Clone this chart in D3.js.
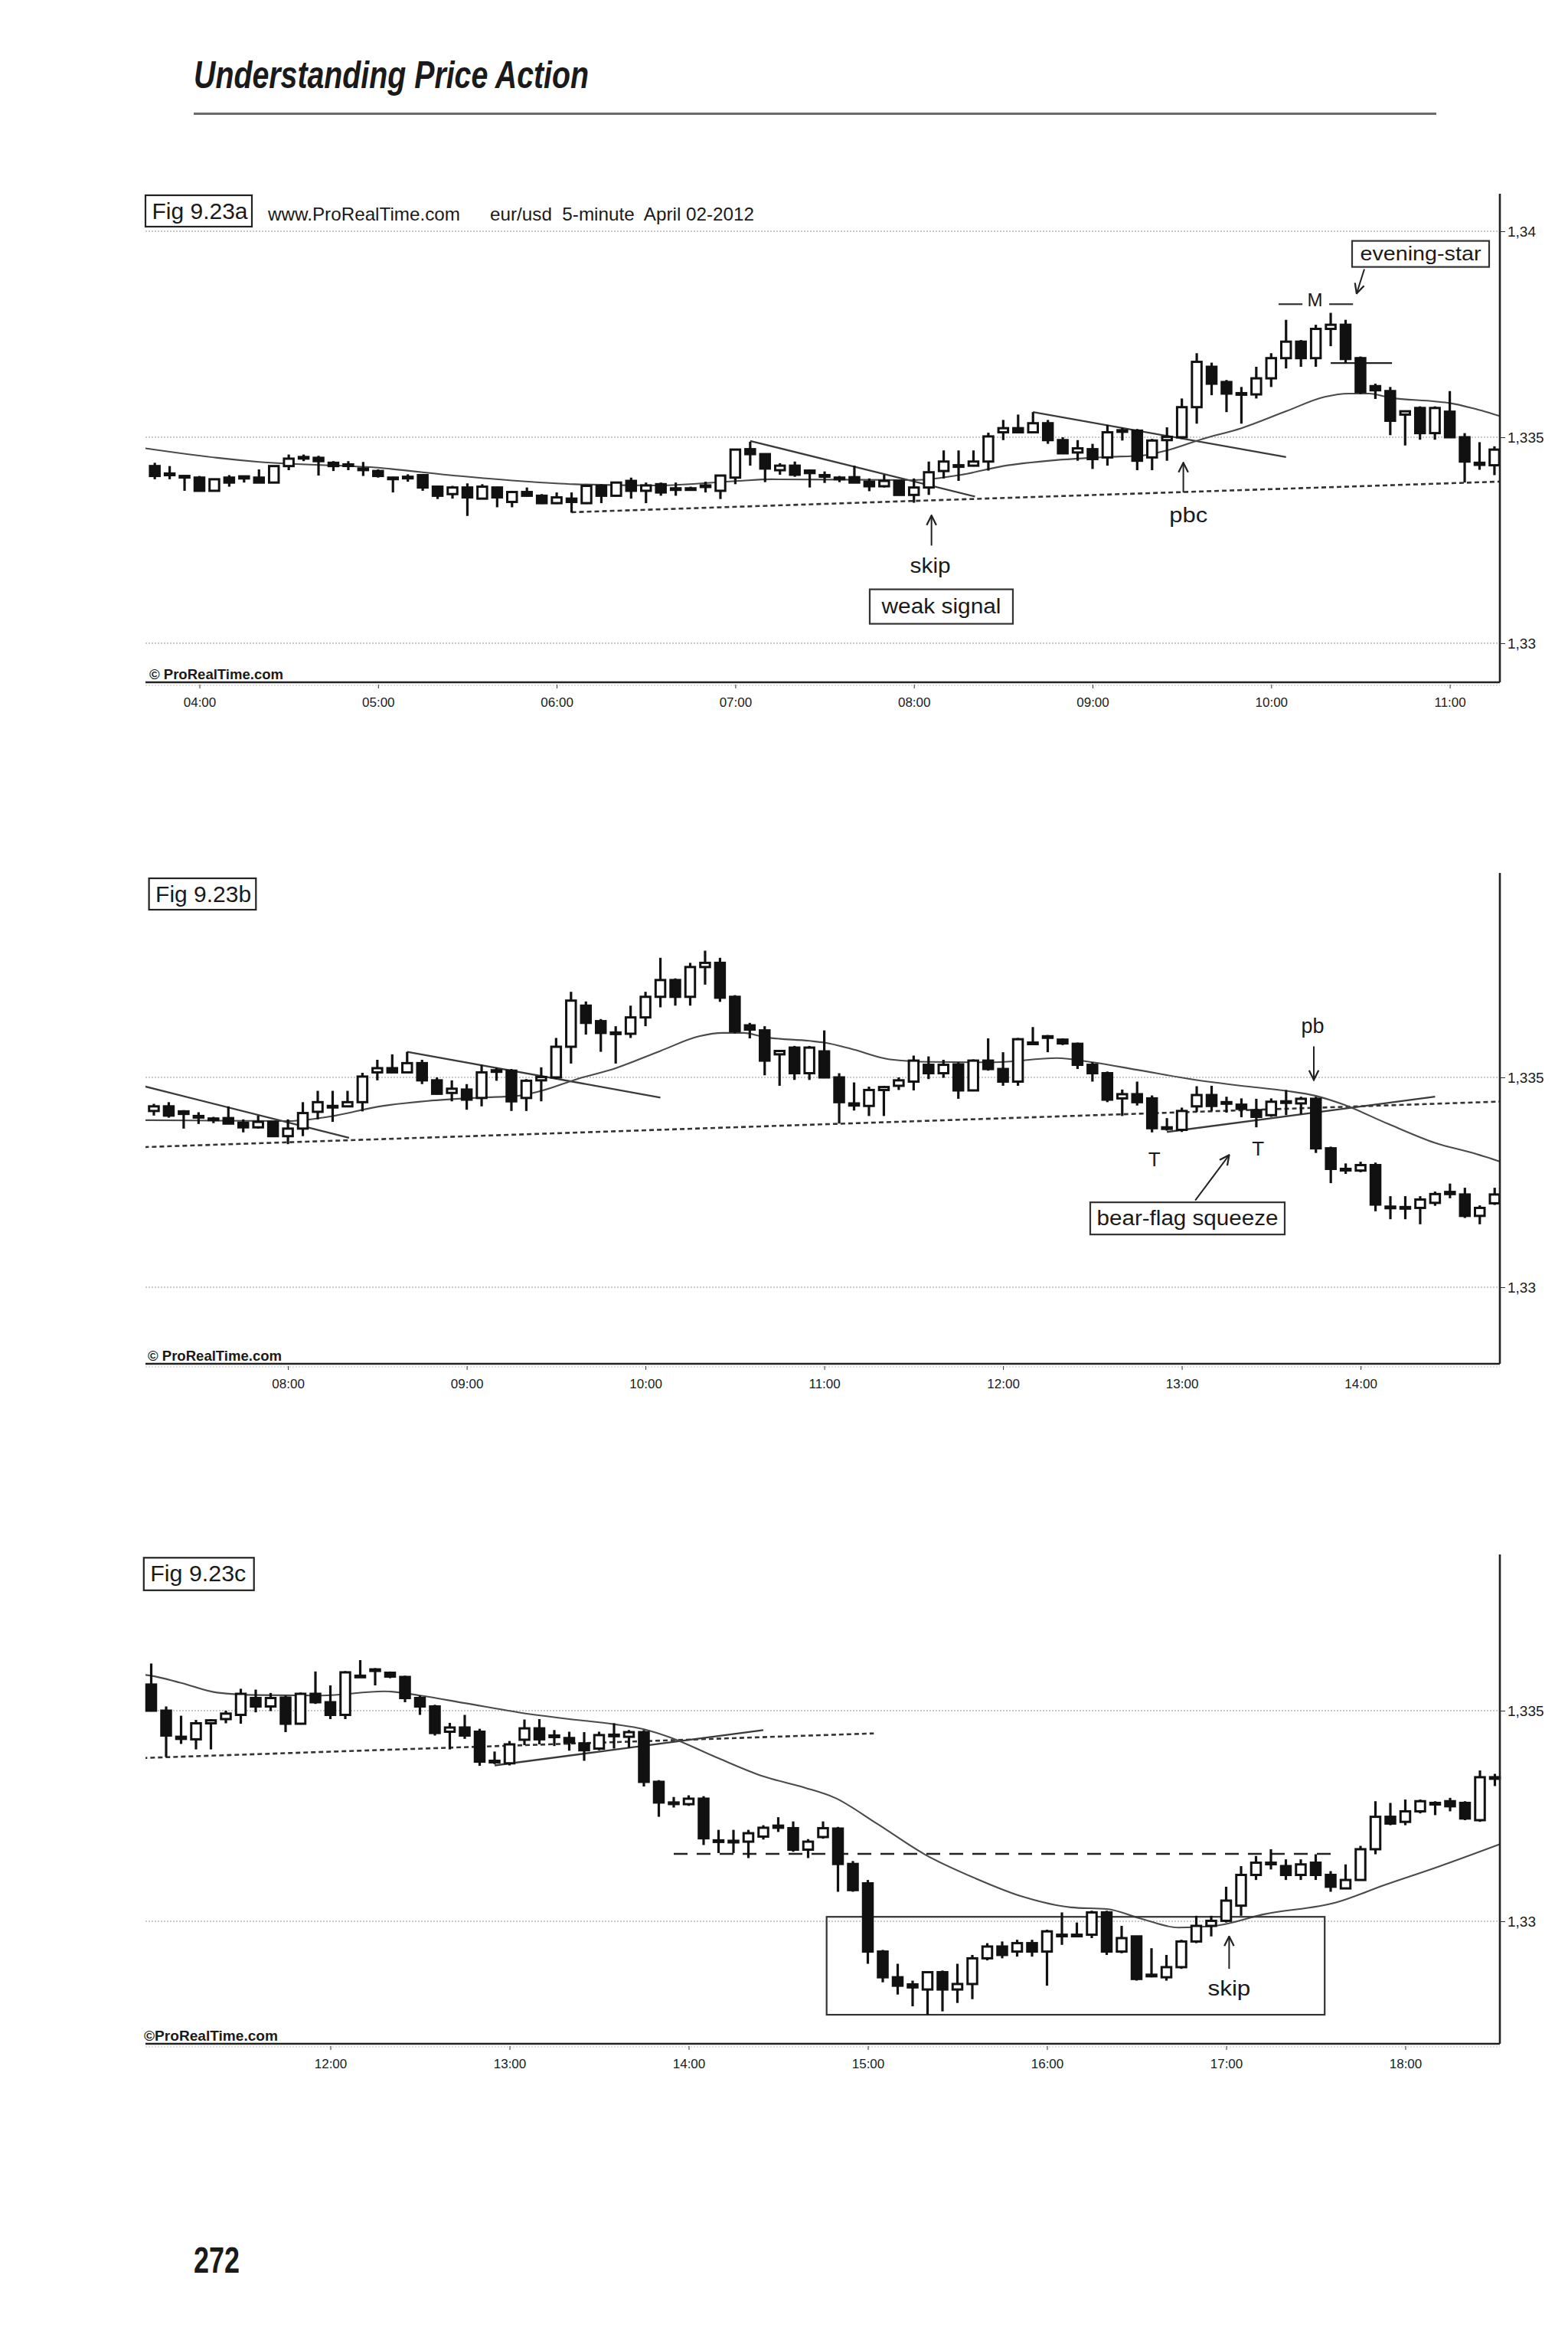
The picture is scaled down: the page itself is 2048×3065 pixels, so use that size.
<!DOCTYPE html>
<html>
<head>
<meta charset="utf-8">
<title>Fig 9.23 eur/usd 5-minute April 02-2012</title>
<script src="https://cdn.jsdelivr.net/npm/d3@7"></script>
<style>
html,body{margin:0;padding:0;background:#fff;}
svg{display:block;}
text{font-family:"Liberation Sans",Arial,sans-serif;fill:#1a1a1a;}
</style>
</head>
<body>
<svg id="page" width="2048" height="3065" viewBox="0 0 2048 3065"></svg>
<script>
// ================= DATA =================
// EUR/USD 5-minute bars, 2 April 2012. First bar 03:45, one bar every 5 minutes (to 18:30).
// Prices are given in pips above 1.3300  (price = 1.3300 + pips * 0.0001).
const PIP_BASE = 1.33;
const PIP_SIZE = 0.0001;
const firstBarTime = "03:45";
const barMinutes = 5;

const openPips = [
  43.0, 41.2, 40.6,
  40.2, 37.0, 40.2, 40.0, 40.2, 39.0, 43.0, 45.2, 45.0, 43.8, 43.4, 42.4,
  41.8, 40.2, 40.4, 40.8, 38.0, 36.2, 37.8, 35.1, 37.8, 34.3, 36.7, 35.8,
  34.0, 35.1, 34.0, 38.2, 35.8, 39.4, 37.0, 38.6, 37.6, 37.6, 38.0, 37.0,
  40.2, 47.1, 45.9, 42.0, 43.1, 41.9, 40.8, 40.2, 40.3, 39.2, 38.1, 39.4,
  36.0, 37.8, 41.8, 43.1, 43.1, 44.1, 51.2, 52.2, 51.2, 53.4, 49.3, 46.3,
  47.1, 45.1, 51.5, 51.6, 45.1, 49.3, 50.0, 57.3, 67.1, 63.4, 60.7, 60.4,
  64.3, 69.2, 73.2, 69.2, 76.3, 77.3, 69.2, 62.4, 61.2, 55.5, 57.1, 51.0,
  56.2, 50.0, 43.8, 43.2, 47.0, 48.0, 49.0, 53.0, 51.0, 53.1, 46.9, 54.0,
  52.0, 49.0, 58.1, 59.8, 59.0, 58.0, 53.0, 51.0, 45.0, 46.0, 45.0, 37.9,
  37.5, 43.1, 45.8, 44.1, 43.5, 42.2, 41.0, 44.2, 43.8, 44.9, 33.1, 28.2,
  27.8, 29.1, 19.2, 19.0, 18.9, 20.1, 22.7, 22.1, 17.0, 20.0, 22.0, 13.6,
  9.0, -7.2, -13.3, -15.0, -16.2, -12.1, -16.2, -14.9, -8.8, -6.0, -7.2, -5.2,
  -7.2, -3.2, -3.2, -3.2, 2.1, -7.2, -3.6, -12.9, -13.3, -10.9, -4.8, -1.1,
  0.1, 3.7, 11.0, 13.9, 13.1, 11.0, 13.9, 11.0, 7.8, 9.8, 17.1, 24.8,
  23.6, 26.1, 28.1, 28.5, 28.1, 24.0, 34.2
];
const highPips = [
  43.8, 43.0, 40.8,
  40.6, 39.9, 40.8, 40.7, 42.2, 43.0, 45.8, 45.8, 45.5, 44.2, 44.2, 44.0,
  42.2, 40.4, 41.0, 41.0, 38.2, 38.2, 38.8, 38.6, 38.0, 37.0, 37.8, 36.2,
  36.6, 36.6, 38.2, 38.6, 39.2, 40.2, 39.0, 39.0, 39.0, 38.0, 39.2, 40.8,
  47.2, 48.9, 46.0, 43.7, 44.1, 42.2, 41.7, 40.6, 43.1, 40.0, 40.9, 39.6,
  40.0, 44.1, 46.8, 46.8, 46.8, 51.1, 54.2, 55.5, 56.1, 54.2, 50.0, 49.3,
  48.4, 53.0, 52.3, 52.0, 49.6, 52.4, 59.4, 70.4, 68.1, 63.9, 62.2, 67.1,
  70.4, 78.5, 73.6, 77.3, 80.2, 78.5, 69.6, 63.0, 62.2, 56.5, 57.5, 57.5,
  61.2, 51.0, 48.8, 47.8, 48.0, 50.0, 55.2, 55.0, 54.2, 53.6, 54.3, 59.3,
  56.0, 59.4, 62.0, 60.1, 59.3, 58.3, 53.6, 51.4, 47.1, 49.0, 45.7, 40.3,
  42.8, 47.9, 48.0, 45.4, 45.0, 44.9, 45.0, 47.0, 45.4, 45.4, 33.5, 29.5,
  29.9, 29.7, 21.7, 21.7, 21.7, 22.8, 24.7, 23.7, 19.5, 23.7, 22.4, 14.3,
  9.8, -6.8, -10.1, -14.1, -12.1, -11.7, -10.1, -8.0, -5.2, -4.8, -4.4, -4.4,
  -2.0, 2.1, -0.3, 2.5, 2.5, -1.1, -3.6, -6.4, -8.0, -4.4, 1.3, 1.3,
  8.2, 13.1, 15.5, 17.1, 14.7, 14.7, 15.9, 11.9, 13.5, 17.9, 28.5, 28.1,
  28.9, 28.9, 28.5, 29.3, 28.5, 35.8, 35.0
];
const lowPips = [
  39.8, 39.8, 37.0,
  36.8, 36.9, 38.0, 39.0, 39.0, 39.0, 42.0, 44.2, 40.7, 41.8, 42.0, 40.6,
  40.2, 36.6, 39.2, 37.0, 35.0, 35.1, 30.9, 35.0, 33.0, 33.0, 35.6, 33.8,
  33.8, 31.7, 33.8, 34.0, 35.6, 35.1, 34.0, 35.8, 35.8, 37.0, 36.6, 35.0,
  38.6, 43.1, 39.1, 40.9, 40.4, 37.8, 38.9, 39.1, 39.0, 36.9, 37.8, 36.0,
  34.1, 36.0, 40.0, 39.4, 42.9, 41.9, 49.3, 51.2, 51.2, 48.4, 45.9, 44.3,
  42.3, 43.1, 49.2, 42.0, 42.0, 44.3, 49.6, 53.3, 60.2, 56.1, 53.3, 59.4,
  62.2, 66.7, 67.1, 67.1, 72.1, 68.0, 60.5, 59.3, 50.5, 48.0, 49.4, 49.4,
  49.8, 39.0, 42.1, 40.8, 40.8, 47.0, 46.9, 49.6, 49.9, 44.9, 46.7, 51.6,
  48.0, 48.0, 57.9, 56.0, 57.7, 52.0, 49.0, 44.1, 40.8, 43.3, 36.9, 37.3,
  37.0, 41.8, 42.0, 41.6, 40.5, 38.1, 40.6, 41.0, 41.2, 32.0, 24.8, 27.0,
  27.4, 18.1, 16.2, 16.2, 15.0, 19.4, 21.2, 16.5, 15.0, 19.6, 7.0, 7.0,
  -10.1, -14.5, -17.4, -20.2, -22.2, -21.4, -19.4, -18.5, -9.3, -8.8, -8.4, -8.4,
  -15.3, -5.6, -3.6, -4.0, -8.0, -7.6, -14.1, -13.3, -14.1, -11.3, -5.2, -3.6,
  -0.3, 1.3, 9.8, 12.3, 9.8, 9.8, 9.8, 7.0, 7.8, 9.8, 15.9, 22.8,
  22.8, 25.6, 25.2, 26.1, 24.0, 23.6, 32.1
];
const closePips = [
  40.6, 40.8, 40.4,
  37.0, 39.8, 39.0, 40.5, 39.0, 43.0, 44.8, 45.0, 44.2, 43.0, 43.3, 42.2,
  40.6, 40.0, 40.2, 37.8, 35.8, 37.8, 35.4, 38.0, 35.4, 36.7, 35.8, 34.0,
  35.4, 34.3, 38.2, 35.8, 39.0, 37.0, 38.3, 36.6, 37.4, 37.4, 38.3, 40.7,
  47.0, 45.9, 42.4, 43.1, 40.9, 41.3, 40.6, 40.0, 39.0, 38.1, 39.4, 36.0,
  37.8, 41.5, 44.1, 43.2, 44.1, 50.2, 52.2, 51.2, 53.4, 49.3, 46.1, 47.3,
  44.7, 51.2, 51.7, 44.3, 49.2, 50.1, 57.3, 68.3, 63.0, 60.6, 60.5, 64.3,
  69.2, 73.2, 69.2, 76.3, 77.3, 69.0, 61.0, 61.4, 54.0, 56.3, 51.0, 57.1,
  50.0, 44.1, 43.3, 47.0, 47.7, 49.3, 54.0, 51.0, 53.0, 46.9, 54.0, 52.0,
  49.0, 59.1, 58.3, 59.6, 58.1, 53.0, 51.0, 44.7, 46.0, 44.1, 37.9, 38.1,
  42.0, 45.8, 43.2, 43.9, 42.5, 40.6, 44.2, 44.3, 44.9, 33.1, 28.2, 28.0,
  29.1, 19.7, 19.0, 19.1, 20.9, 22.2, 22.2, 17.0, 18.9, 22.1, 13.6, 7.4,
  -7.2, -13.3, -15.3, -15.7, -12.1, -16.2, -14.9, -8.8, -6.0, -8.0, -5.2, -7.2,
  -2.4, -3.3, -3.3, 2.1, -7.2, -4.0, -13.7, -12.7, -10.9, -4.8, -1.1, 0.1,
  4.9, 11.0, 13.9, 13.8, 11.0, 13.5, 11.0, 8.2, 9.8, 17.1, 24.8, 23.2,
  26.1, 28.5, 28.1, 27.3, 24.4, 34.2, 34.0
];

// moving average (thin grey line)
const maTimes = ["03:40","04:06","04:20","05:00","05:27","05:47","06:06","06:34","07:01","07:12",
  "08:00","08:16","08:30","08:47","09:05","09:17","09:25","09:37","09:50","10:05",
  "10:18","10:26","10:33","10:40","10:55","11:00","11:10","11:22","11:36","11:57",
  "12:18","12:30","12:45","13:03","13:20","13:35","13:45","13:54","14:09","14:25",
  "14:39","14:49","15:03","15:19","15:36","15:52","16:08","16:20","16:32","16:44",
  "16:56","17:13","17:37","17:53","18:10","18:32"];
const maPips = [47.5,45.0,44.0,42.6,40.6,39.4,38.6,38.3,39.4,39.8,
  39.6,40.9,43.0,44.4,45.2,45.6,46.8,49.6,52.2,56.3,
  59.8,60.6,60.6,59.6,58.7,58.3,56.6,54.3,53.7,53.6,
  54.6,53.6,51.8,49.6,48.0,46.8,45.6,43.6,39.0,34.4,
  31.7,29.3,23.2,15.9,10.2,5.8,3.3,2.9,0.5,-1.5,
  -1.1,1.7,4.5,8.6,12.7,18.4];

// hand-drawn lines (end points)
const supportTimes = ["06:05", "15:02"];   const supportPips = [31.8, 44.6];   // dotted rising line
const tl1Times = ["07:05", "08:20.5"];      const tl1Pips = [49.1, 35.6];
const tl2Times = ["08:40", "10:05"];        const tl2Pips = [56.1, 45.2];
const tl3Times = ["12:55", "14:25"];        const tl3Pips = [37.0, 45.4];        // bear-flag line
const eveningLineTimes = ["10:20", "10:40.6"]; const eveningLinePips = [68.0, 68.0];
const levelTimes = ["13:55", "17:36"];      const levelPips = [16.0, 16.0];      // dashed level (Fig c)
const boxTimes = ["14:46.2", "17:33"];      const boxPips = [1.05, -22.2];       // range box (Fig c)

// axes
const priceTicks = [1.33, 1.335, 1.34];
const priceTickLabels = ["1,33", "1,335", "1,34"];
const panelATicks = ["04:00","05:00","06:00","07:00","08:00","09:00","10:00","11:00"];
const panelBTicks = ["08:00","09:00","10:00","11:00","12:00","13:00","14:00"];
const panelCTicks = ["12:00","13:00","14:00","15:00","16:00","17:00","18:00"];

// ================= HELPERS =================
const M = s => { const [h, m] = s.split(":"); return (+h) * 60 + (+m); };
const P = pips => PIP_BASE + pips * PIP_SIZE;
const barMin = d3.range(openPips.length).map(i => M(firstBarTime) + i * barMinutes);

// ================= LAYOUT =================
const LEFT = 190, RIGHT = 1959, BODY = 12.5;
const INK = "#111";

const svg = d3.select("#page");
const defs = svg.append("defs");
defs.append("marker").attr("id", "arrow")
  .attr("viewBox", "0 0 12 12").attr("refX", 11).attr("refY", 6)
  .attr("markerWidth", 15).attr("markerHeight", 15)
  .attr("markerUnits", "userSpaceOnUse").attr("orient", "auto")
  .append("path").attr("d", "M1,1 L11,6 L1,11")
  .attr("fill", "none").attr("stroke", "#222").attr("stroke-width", 1.8);

// page header
svg.append("text").attr("x", 253).attr("y", 115)
  .attr("font-family", "'Liberation Sans Narrow','Arial Narrow','Liberation Sans',sans-serif")
  .attr("font-style", "italic").attr("font-weight", 600).attr("font-size", 50)
  .attr("textLength", 516).attr("lengthAdjust", "spacingAndGlyphs")
  .text("Understanding Price Action");
svg.append("line").attr("x1", 253).attr("x2", 1876).attr("y1", 148.5).attr("y2", 148.5)
  .attr("stroke", "#6a6a6a").attr("stroke-width", 3);
svg.append("text").attr("x", 253).attr("y", 2968)
  .attr("font-family", "'Liberation Sans Narrow','Arial Narrow','Liberation Sans',sans-serif")
  .attr("font-weight", 700).attr("font-size", 48)
  .attr("textLength", 60).attr("lengthAdjust", "spacingAndGlyphs")
  .text("272");

const panels = [
  { id: "a", label: "Fig 9.23a", barsFrom: "03:45", barsTo: "11:15", ticks: panelATicks,
    tickAnchor: ["04:00", "11:00"], tickX: [260.5, 1893.6], priceY: [840, 571],
    top: 253, bottom: 891, figBox: [190, 255, 139, 41],
    copy: "© ProRealTime.com", copyX: 195 },
  { id: "b", label: "Fig 9.23b", barsFrom: "07:15", barsTo: "14:45", ticks: panelBTicks,
    tickAnchor: ["08:00", "14:00"], tickX: [376.1, 1777.1], priceY: [1681, 1407],
    top: 1140, bottom: 1781, figBox: [194.6, 1147, 139.7, 41],
    copy: "© ProRealTime.com", copyX: 193 },
  { id: "c", label: "Fig 9.23c", barsFrom: "11:00", barsTo: "18:30", ticks: panelCTicks,
    tickAnchor: ["12:00", "18:00"], tickX: [431.5, 1835.5], priceY: [2509, 2234],
    top: 2030, bottom: 2669, figBox: [187.8, 2034.3, 143.9, 42.5],
    copy: "©ProRealTime.com", copyX: 188 }
];

function drawPanel(cfg) {
  const x = d3.scaleLinear().domain(cfg.tickAnchor.map(M)).range(cfg.tickX);
  const y = d3.scaleLinear().domain([1.33, 1.335]).range(cfg.priceY);
  const g = svg.append("g").attr("id", "panel-" + cfg.id);
  const clipId = "clip-" + cfg.id;
  defs.append("clipPath").attr("id", clipId).append("rect")
    .attr("x", LEFT).attr("y", cfg.top).attr("width", RIGHT - LEFT).attr("height", cfg.bottom - cfg.top);

  // horizontal dotted grid
  const tIdx = d3.range(priceTicks.length).filter(k => y(priceTicks[k]) > cfg.top && y(priceTicks[k]) < cfg.bottom);
  g.append("g").selectAll("line").data(tIdx).join("line")
    .attr("x1", LEFT).attr("x2", RIGHT)
    .attr("y1", k => y(priceTicks[k])).attr("y2", k => y(priceTicks[k]))
    .attr("stroke", "#b9b9b9").attr("stroke-width", 1.5).attr("stroke-dasharray", "2,2");

  const lg = g.append("g").attr("clip-path", `url(#${clipId})`);
  const seg = (times, pips) => times.map((t, i) => [M(t), P(pips[i])]);
  const lineGen = d3.line().x(d => x(d[0])).y(d => y(d[1]));

  // dotted rising line
  lg.append("path").attr("d", lineGen(seg(supportTimes, supportPips)))
    .attr("fill", "none").attr("stroke", "#333").attr("stroke-width", 2.6).attr("stroke-dasharray", "6,4");
  // trend lines
  [[tl1Times, tl1Pips], [tl2Times, tl2Pips], [tl3Times, tl3Pips]].forEach(([t, p]) => {
    lg.append("path").attr("d", lineGen(seg(t, p)))
      .attr("fill", "none").attr("stroke", "#3a3a3a").attr("stroke-width", 2.3);
  });
  // moving average
  lg.append("path").attr("d", d3.line().x(d => x(d[0])).y(d => y(d[1])).curve(d3.curveMonotoneX)(seg(maTimes, maPips)))
    .attr("fill", "none").attr("stroke", "#4a4a4a").attr("stroke-width", 2.1);

  if (cfg.id === "a") {
    lg.append("path").attr("d", lineGen(seg(eveningLineTimes, eveningLinePips)))
      .attr("fill", "none").attr("stroke", "#222").attr("stroke-width", 2.4);
  }
  if (cfg.id === "c") {
    lg.append("path").attr("d", lineGen(seg(levelTimes, levelPips)))
      .attr("fill", "none").attr("stroke", "#222").attr("stroke-width", 2.6).attr("stroke-dasharray", "18,12");
    lg.append("rect")
      .attr("x", x(M(boxTimes[0]))).attr("width", x(M(boxTimes[1])) - x(M(boxTimes[0])))
      .attr("y", y(P(boxPips[0]))).attr("height", y(P(boxPips[1])) - y(P(boxPips[0])))
      .attr("fill", "none").attr("stroke", "#333").attr("stroke-width", 2.2);
  }

  // candles
  const idx = d3.range(barMin.length).filter(i => barMin[i] >= M(cfg.barsFrom) && barMin[i] <= M(cfg.barsTo));
  const cg = g.append("g").selectAll("g").data(idx).join("g");
  cg.append("line")
    .attr("x1", i => x(barMin[i])).attr("x2", i => x(barMin[i]))
    .attr("y1", i => y(P(highPips[i]))).attr("y2", i => y(P(lowPips[i])))
    .attr("stroke", INK).attr("stroke-width", 3.2);
  cg.append("rect")
    .attr("x", i => x(barMin[i]) - BODY / 2).attr("width", BODY)
    .attr("y", i => Math.min(y(P(openPips[i])), y(P(closePips[i]))))
    .attr("height", i => Math.max(2, Math.abs(y(P(openPips[i])) - y(P(closePips[i])))))
    .attr("fill", i => closePips[i] > openPips[i] ? "#fff" : INK)
    .attr("stroke", INK).attr("stroke-width", 3);

  // bottom axis
  g.append("line").attr("x1", LEFT).attr("x2", RIGHT).attr("y1", cfg.bottom).attr("y2", cfg.bottom)
    .attr("stroke", "#222").attr("stroke-width", 2.6);
  g.append("line").attr("x1", LEFT).attr("x2", RIGHT).attr("y1", cfg.bottom + 4).attr("y2", cfg.bottom + 4)
    .attr("stroke", "#c4c4c4").attr("stroke-width", 1.2).attr("stroke-dasharray", "2,2");
  const xAxis = d3.axisBottom(x).tickValues(cfg.ticks.map(M))
    .tickFormat((m, k) => cfg.ticks[k]).tickSize(5).tickPadding(12);
  const xa = g.append("g").attr("transform", `translate(0,${cfg.bottom + 3})`).call(xAxis);
  xa.select(".domain").remove();
  xa.style("color", "#333").attr("font-family", "'Liberation Sans',Arial,sans-serif").attr("font-size", 17);
  xa.selectAll("text").attr("fill", "#1a1a1a");

  // right axis
  g.append("line").attr("x1", RIGHT).attr("x2", RIGHT).attr("y1", cfg.top).attr("y2", cfg.bottom)
    .attr("stroke", "#222").attr("stroke-width", 2.6);
  const yAxis = d3.axisRight(y).tickValues(tIdx.map(k => priceTicks[k]))
    .tickFormat(v => priceTickLabels[priceTicks.indexOf(v)]).tickSize(7).tickPadding(3);
  const ya = g.append("g").attr("transform", `translate(${RIGHT},0)`).call(yAxis);
  ya.select(".domain").remove();
  ya.style("color", "#333").attr("font-family", "'Liberation Sans',Arial,sans-serif").attr("font-size", 19);
  ya.selectAll("text").attr("fill", "#1a1a1a");

  // copyright
  g.append("text").attr("x", cfg.copyX).attr("y", cfg.bottom - 4)
    .attr("font-size", 19).attr("font-weight", 600).attr("textLength", 175).attr("lengthAdjust", "spacingAndGlyphs")
    .text(cfg.copy);

  // figure label
  const fb = cfg.figBox;
  g.append("rect").attr("x", fb[0]).attr("y", fb[1]).attr("width", fb[2]).attr("height", fb[3])
    .attr("fill", "#fff").attr("stroke", "#222").attr("stroke-width", 2.2);
  g.append("text").attr("x", fb[0] + 8.5).attr("y", fb[1] + 30.5)
    .attr("font-size", 30).attr("textLength", 125).attr("lengthAdjust", "spacingAndGlyphs")
    .text(cfg.label);

  return { x, y, g };
}

const drawn = panels.map(drawPanel);

// ================= ANNOTATIONS =================
function label(pn, t, pips, txt, size, len) {
  const { x, y, g } = drawn[pn];
  const el = g.append("text").attr("x", x(M(t))).attr("y", y(P(pips)))
    .attr("text-anchor", "middle").attr("font-size", size).text(txt);
  if (len) el.attr("textLength", len).attr("lengthAdjust", "spacingAndGlyphs");
}
function boxed(pn, t, pips, txt, size, len, w, h) {
  const { x, y, g } = drawn[pn];
  const cx = x(M(t)), cy = y(P(pips));
  g.append("rect").attr("x", cx - w / 2).attr("y", cy - h / 2).attr("width", w).attr("height", h)
    .attr("fill", "#fff").attr("stroke", "#333").attr("stroke-width", 2.2);
  g.append("text").attr("x", cx).attr("y", cy + size * 0.34)
    .attr("text-anchor", "middle").attr("font-size", size)
    .attr("textLength", len).attr("lengthAdjust", "spacingAndGlyphs").text(txt);
}
function arrow(pn, t0, p0, t1, p1) {
  const { x, y, g } = drawn[pn];
  g.append("line").attr("x1", x(M(t0))).attr("y1", y(P(p0))).attr("x2", x(M(t1))).attr("y2", y(P(p1)))
    .attr("stroke", "#222").attr("stroke-width", 2).attr("marker-end", "url(#arrow)");
}
function rule(pn, t0, t1, pips) {
  const { x, y, g } = drawn[pn];
  g.append("line").attr("x1", x(M(t0))).attr("x2", x(M(t1))).attr("y1", y(P(pips))).attr("y2", y(P(pips)))
    .attr("stroke", "#333").attr("stroke-width", 2.2);
}

// Fig 9.23a
{
  const { g } = drawn[0];
  g.append("text").attr("x", 350).attr("y", 288).attr("font-size", 24)
    .attr("textLength", 251).attr("lengthAdjust", "spacingAndGlyphs").text("www.ProRealTime.com");
  g.append("text").attr("x", 640).attr("y", 288).attr("font-size", 24).style("white-space", "pre")
    .attr("textLength", 345).attr("lengthAdjust", "spacingAndGlyphs").text("eur/usd  5-minute  April 02-2012");
}
label(0, "08:05.5", 17.1, "skip", 27, 53);
arrow(0, "08:05.9", 23.7, "08:05.9", 31.0);
boxed(0, "08:09.2", 8.9, "weak signal", 27, 156, 187, 45);
label(0, "09:32.2", 29.35, "pbc", 28, 50);
arrow(0, "09:30.5", 36.6, "09:30.5", 43.8);
label(0, "10:14.7", 81.7, "M", 24);
rule(0, "10:02.5", "10:10.5", 82.3);
rule(0, "10:19.5", "10:27.5", 82.3);
boxed(0, "10:50.2", 94.5, "evening-star", 26, 158, 179, 34);
arrow(0, "10:31.3", 90.8, "10:28.7", 84.9);

// Fig 9.23b
label(1, "13:43.9", 60.6, "pb", 27);
arrow(1, "13:44.3", 57.4, "13:44.3", 49.4);
label(1, "12:50.8", 28.9, "T", 26);
label(1, "13:25.6", 31.3, "T", 26);
boxed(1, "13:01.9", 16.4, "bear-flag squeeze", 27, 237, 254, 42);
arrow(1, "13:04.5", 20.7, "13:15.9", 31.5);

// Fig 9.23c
label(2, "17:01", -17.6, "skip", 27, 56);
arrow(2, "17:01", -11.3, "17:01", -3.6);
</script>
</body>
</html>
